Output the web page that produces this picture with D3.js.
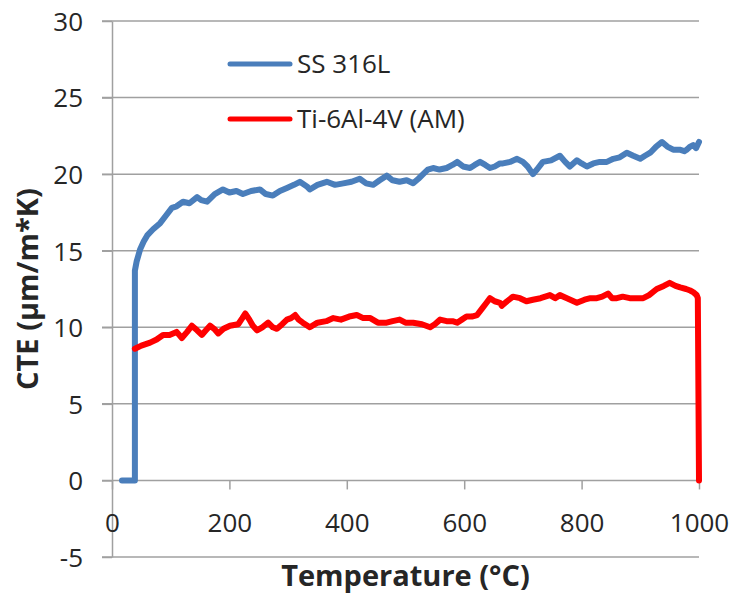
<!DOCTYPE html>
<html lang="en">
  <head>
    <meta charset="utf-8" />
    <title>CTE vs temperature</title>
    <script src="https://cdnjs.cloudflare.com/ajax/libs/d3/7.8.5/d3.min.js"></script>
    <style type="text/css">
      body {
        margin: 0;
        background: #fff;
      }
      text {
        font-family: "Open Sans", sans-serif;
        fill: #262626;
      }
      .grid line {
        stroke: #a0a0a0;
        stroke-width: 1.5;
      }
      .axis path,
      .axis line {
        stroke: #a0a0a0;
        stroke-width: 1.5;
      }
      .axis text {
        font-size: 26px;
      }
      .title {
        font-size: 29px;
        font-weight: bold;
      }
      .series {
        fill: none;
        stroke-width: 6;
        stroke-linejoin: round;
        stroke-linecap: round;
      }
    </style>
  </head>

  <body>
    <div id="chart"></div>

    <script>
      const seriesNames = ["SS 316L", "Ti-6Al-4V (AM)"];
      const seriesColors = ["#4a7ebb", "#ff0000"];
      const yTicks = [-5, 0, 5, 10, 15, 20, 25, 30];
      const xTicks = [0, 200, 400, 600, 800, 1000];

      // SS 316L
      const ssTemp = [17, 39, 39, 42, 48, 54, 60, 70, 82, 92, 102, 110, 121, 132, 145, 152, 162, 175, 189, 200, 212, 223, 237, 252, 262, 274, 286, 298, 310, 320, 332, 337, 350, 366, 380, 394, 408, 422, 433, 445, 456, 468, 478, 490, 502, 513, 522, 530, 538, 547, 558, 570, 580, 588, 598, 610, 618, 627, 636, 644, 652, 661, 666, 678, 690, 700, 708, 717, 724, 734, 748, 763, 772, 780, 792, 800, 809, 820, 831, 843, 854, 865, 877, 888, 900, 908, 917, 927, 937, 946, 956, 967, 975, 979, 985, 990, 995, 1000];
      const ssCte = [0, 0, 13.7, 14.3, 15.1, 15.6, 16.0, 16.4, 16.8, 17.3, 17.8, 17.9, 18.2, 18.1, 18.5, 18.3, 18.2, 18.7, 19.0, 18.8, 18.9, 18.7, 18.9, 19.0, 18.7, 18.6, 18.9, 19.1, 19.3, 19.5, 19.2, 19.0, 19.3, 19.5, 19.3, 19.4, 19.5, 19.7, 19.4, 19.3, 19.6, 19.9, 19.6, 19.5, 19.6, 19.4, 19.7, 20.0, 20.3, 20.4, 20.3, 20.4, 20.6, 20.8, 20.5, 20.4, 20.6, 20.8, 20.6, 20.4, 20.5, 20.7, 20.7, 20.8, 21.0, 20.8, 20.5, 20.0, 20.3, 20.8, 20.9, 21.2, 20.8, 20.5, 20.9, 20.7, 20.5, 20.7, 20.8, 20.8, 21.0, 21.1, 21.4, 21.2, 21.0, 21.2, 21.4, 21.8, 22.1, 21.8, 21.6, 21.6, 21.5, 21.6, 21.8, 21.9, 21.7, 22.1];

      // Ti-6Al-4V (AM)
      const tiTemp = [39, 50, 65, 76, 87, 98, 110, 119, 128, 136, 145, 153, 160, 167, 174, 181, 190, 201, 215, 222, 227, 234, 240, 247, 256, 266, 274, 281, 290, 298, 305, 312, 318, 325, 337, 350, 365, 377, 390, 404, 417, 428, 440, 453, 468, 478, 490, 500, 513, 528, 542, 550, 559, 570, 580, 588, 596, 604, 613, 622, 630, 638, 644, 652, 661, 664, 673, 683, 695, 706, 717, 730, 746, 755, 763, 775, 792, 805, 815, 826, 835, 845, 852, 860, 870, 882, 893, 905, 915, 928, 940, 950, 960, 968, 978, 985, 990, 996, 998, 1000];
      const tiCte = [8.6, 8.8, 9.0, 9.2, 9.5, 9.5, 9.7, 9.3, 9.7, 10.1, 9.8, 9.5, 9.8, 10.1, 9.9, 9.6, 9.9, 10.1, 10.2, 10.6, 10.9, 10.5, 10.1, 9.8, 10.0, 10.3, 10.0, 9.9, 10.2, 10.5, 10.6, 10.8, 10.5, 10.3, 10.0, 10.3, 10.4, 10.6, 10.5, 10.7, 10.8, 10.6, 10.6, 10.3, 10.3, 10.4, 10.5, 10.3, 10.3, 10.2, 10.0, 10.2, 10.5, 10.4, 10.4, 10.3, 10.5, 10.7, 10.7, 10.8, 11.2, 11.6, 11.9, 11.7, 11.6, 11.4, 11.7, 12.0, 11.9, 11.7, 11.8, 11.9, 12.1, 11.9, 12.1, 11.9, 11.6, 11.8, 11.9, 11.9, 12.0, 12.2, 11.9, 11.9, 12.0, 11.9, 11.9, 11.9, 12.1, 12.5, 12.7, 12.9, 12.7, 12.6, 12.5, 12.4, 12.3, 12.1, 11.9, 0];

      const width = 733;
      const height = 596;
      const margin = { top: 21, right: 34, bottom: 39, left: 112 };

      const svg = d3
        .select("#chart")
        .append("svg")
        .attr("width", width)
        .attr("height", height);

      const x = d3
        .scaleLinear()
        .domain([0, 1000])
        .range([margin.left, width - margin.right]);
      const y = d3
        .scaleLinear()
        .domain([-5, 30])
        .range([height - margin.bottom, margin.top]);

      // horizontal gridlines (the 0 line is the x axis)
      svg
        .append("g")
        .attr("class", "grid")
        .selectAll("line")
        .data(yTicks.filter((d) => d !== 0))
        .join("line")
        .attr("x1", margin.left - 10)
        .attr("x2", x(1000))
        .attr("y1", (d) => y(d))
        .attr("y2", (d) => y(d));

      // y axis
      const yAxisG = svg
        .append("g")
        .attr("class", "axis")
        .attr("transform", `translate(${margin.left},0)`)
        .call(
          d3
            .axisLeft(y)
            .tickValues(yTicks)
            .tickFormat((d) => String(d))
            .tickSize(10)
            .tickSizeOuter(0)
            .tickPadding(19)
        );
      yAxisG.selectAll("text").attr("dy", "0.36em");

      // x axis sits on y = 0
      const xAxisG = svg
        .append("g")
        .attr("class", "axis")
        .attr("transform", `translate(0,${y(0)})`)
        .call(
          d3
            .axisBottom(x)
            .tickValues(xTicks)
            .tickFormat((d) => String(d))
            .tickSize(9)
            .tickSizeOuter(0)
        );
      xAxisG.select(".domain").attr("d", `M${x(0) - 10},0H${x(1000)}`);
      xAxisG.selectAll("text").attr("y", 42).attr("dy", "0.36em");

      const line = d3
        .line()
        .x((d) => x(d[0]))
        .y((d) => y(d[1]));

      const series = [d3.zip(ssTemp, ssCte), d3.zip(tiTemp, tiCte)];

      svg
        .append("g")
        .selectAll("path")
        .data(series)
        .join("path")
        .attr("class", "series")
        .attr("stroke", (d, i) => seriesColors[i])
        .attr("d", line);

      // legend
      const legend = svg
        .append("g")
        .selectAll("g")
        .data(seriesNames)
        .join("g")
        .attr("transform", (d, i) => `translate(230,${64 + i * 55})`);
      legend
        .append("line")
        .attr("x1", 0)
        .attr("x2", 60)
        .attr("stroke", (d, i) => seriesColors[i])
        .attr("stroke-width", 5)
        .attr("stroke-linecap", "round");
      legend
        .append("text")
        .attr("x", 67)
        .attr("dy", "0.36em")
        .style("font-size", "26px")
        .text((d) => d);

      // axis titles
      svg
        .append("text")
        .attr("class", "title")
        .attr("x", (x(0) + x(1000)) / 2)
        .attr("y", 576)
        .attr("dy", "0.36em")
        .attr("text-anchor", "middle")
        .text("Temperature (°C)");

      svg
        .append("text")
        .attr("class", "title")
        .attr("transform", `translate(28,${y(12.5)}) rotate(-90)`)
        .attr("dy", "0.36em")
        .attr("text-anchor", "middle")
        .text("CTE (µm/m*K)");
    </script>
  </body>
</html>
